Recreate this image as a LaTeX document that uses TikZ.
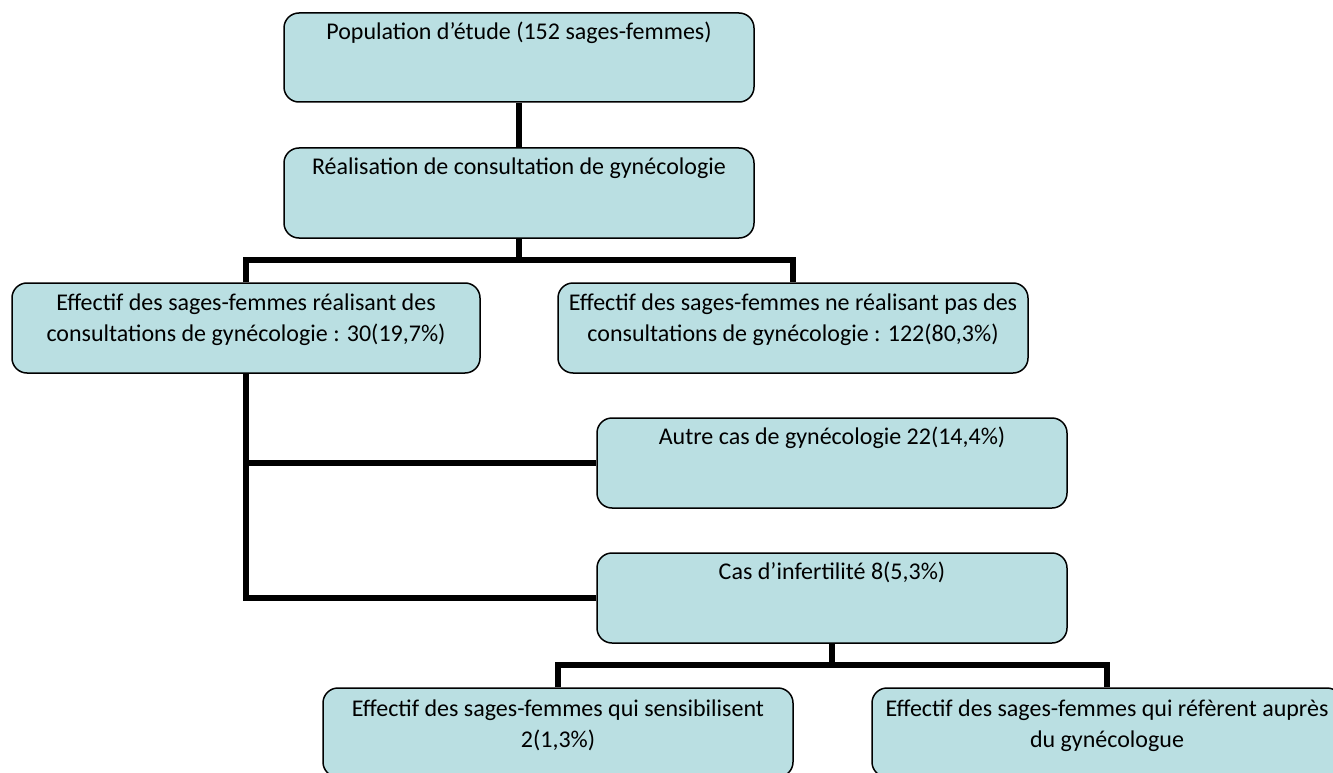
\documentclass[tikz,border=0pt]{standalone}
\usepackage{fontspec}
\setmainfont{Carlito}
\usetikzlibrary{calc}
\definecolor{boxfill}{RGB}{186,223,226}
\tikzset{
  flowbox/.style={draw=black, line width=1.5pt, fill=boxfill, rounded corners=15pt,
    minimum width=470pt, minimum height=90pt, inner sep=0pt},
  txt/.style={font=\fontsize{24pt}{31pt}\selectfont, align=center, inner sep=0pt, anchor=base},
  conn/.style={draw=black, line width=6pt, line join=miter}
}
\begin{document}
\begin{tikzpicture}[x=1pt,y=-1pt]
\useasboundingbox (0,0) rectangle (1333,773);
\begin{scope}
\clip (0,0) rectangle (1333,773);
\coordinate (j1) at (519,260);
\coordinate (j2) at (832,665);
\node[flowbox, minimum height=89pt] (b1) at (519,57.5) {};
\node[flowbox] (b2) at (519,193) {};
\node[flowbox, minimum width=468pt] (b3) at (246,328) {};
\node[flowbox] (b4) at (793,328) {};
\node[flowbox] (b5) at (832,463) {};
\node[flowbox] (b6) at (832,598) {};
\node[flowbox, minimum height=89pt] (b7) at (558,732.5) {};
\node[flowbox, minimum height=89pt] (b8) at (1107,732.5) {};
\draw[conn] (b1.south) -- (b2.north);
\draw[conn] (b2.south) -- (j1);
\draw[conn] (b3.north) |- (j1) -| (b4.north);
\draw[conn] (b3.south) |- (b5.west);
\draw[conn] (b3.south) |- (b6.west);
\draw[conn] (b6.south) -- (j2);
\draw[conn] (b7.north) |- (j2) -| (b8.north);
% texts (base = last line)
\node[txt] (t1) at ([yshift=-27pt]b1.north) {Population d’étude (152 sages-femmes)};
\node[txt] (t2) at ([yshift=-27pt]b2.north) {Réalisation de consultation de gynécologie};
\node[txt] (t3) at ([yshift=-59pt]b3.north) {Effectif des sages-femmes réalisant des\\consultations de gynécologie : 30(19,7\%)};
\node[txt] (t4) at ([yshift=-59pt]b4.north) {Effectif des sages-femmes ne réalisant pas des\\consultations de gynécologie : 122(80,3\%)};
\node[txt] (t5) at ([yshift=-27pt]b5.north) {Autre cas de gynécologie 22(14,4\%)};
\node[txt] (t6) at ([yshift=-27pt]b6.north) {Cas d’infertilité 8(5,3\%)};
\node[txt] (t7) at ([yshift=-60pt]b7.north) {Effectif des sages-femmes qui sensibilisent\\2(1,3\%)};
\node[txt] (t8) at ([yshift=-60pt]b8.north) {Effectif des sages-femmes qui réfèrent auprès\\du gynécologue};
\end{scope}
\end{tikzpicture}
\end{document}
